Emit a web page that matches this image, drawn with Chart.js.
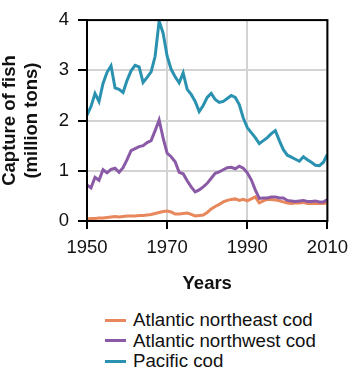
<!DOCTYPE html>
<html>
<head>
<meta charset="utf-8">
<script src="https://cdn.jsdelivr.net/npm/chart.js@4/dist/chart.umd.min.js"></script>
<style>
  html, body { margin: 0; padding: 0; background: #fff; }
  body { width: 356px; height: 374px; overflow: hidden; font-family: "Liberation Sans", Arial, sans-serif; }
  #wrap { position: relative; width: 356px; height: 300px; }
  #legend { position: absolute; left: 105px; top: 310px; }
  .item { height: 20.5px; line-height: 20.5px; font-size: 18.7px; color: #111; white-space: nowrap; }
  .sw { display: inline-block; width: 21px; height: 3px; vertical-align: middle; margin-right: 7px; position: relative; top: -1px; }
</style>
</head>
<body>
<div id="wrap"><canvas id="c" width="356" height="300"></canvas></div>
<div id="legend"></div>
<script>
const years = [];
for (let y = 1950; y <= 2010; y++) years.push(y);

const seriesNames = ["Atlantic northeast cod", "Atlantic northwest cod", "Pacific cod"];
const seriesColors = ["#e8875c", "#8a5aa7", "#2a92b0"];

const atlanticNortheast = [
  0.04, 0.05, 0.05, 0.06, 0.06, 0.07, 0.08, 0.09, 0.08, 0.09,
  0.10, 0.10, 0.10, 0.11, 0.11, 0.12, 0.13, 0.15, 0.17, 0.19,
  0.20, 0.18, 0.14, 0.14, 0.15, 0.16, 0.13, 0.10, 0.11, 0.12,
  0.17, 0.24, 0.29, 0.33, 0.38, 0.41, 0.43, 0.44, 0.41, 0.43,
  0.40, 0.44, 0.48, 0.36, 0.40, 0.43, 0.43, 0.42, 0.40, 0.38,
  0.36, 0.35, 0.36, 0.36, 0.37, 0.35, 0.35, 0.35, 0.35, 0.35,
  0.36
];
const atlanticNorthwest = [
  0.72, 0.66, 0.87, 0.81, 1.02, 0.96, 1.03, 1.05, 0.97, 1.06,
  1.22, 1.40, 1.44, 1.48, 1.50, 1.56, 1.60, 1.80, 2.01, 1.65,
  1.35, 1.28, 1.18, 0.97, 0.94, 0.80, 0.68, 0.58, 0.62, 0.68,
  0.75, 0.85, 0.95, 0.98, 1.02, 1.06, 1.07, 1.04, 1.09, 1.05,
  0.96, 0.82, 0.62, 0.45, 0.46, 0.46, 0.48, 0.48, 0.46, 0.46,
  0.41, 0.40, 0.39, 0.40, 0.41, 0.39, 0.39, 0.40, 0.38, 0.38,
  0.43
];
const pacific = [
  2.11, 2.28, 2.54, 2.38, 2.74, 2.96, 3.09, 2.65, 2.62, 2.56,
  2.80, 2.99, 3.10, 3.07, 2.76, 2.86, 2.97, 3.28, 3.98, 3.74,
  3.28, 3.02, 2.87, 2.75, 2.95, 2.62, 2.52, 2.38, 2.18, 2.30,
  2.46, 2.54, 2.42, 2.36, 2.38, 2.44, 2.50, 2.46, 2.32, 2.05,
  1.86, 1.76, 1.66, 1.54, 1.60, 1.66, 1.74, 1.80, 1.60, 1.42,
  1.31, 1.27, 1.23, 1.19, 1.28, 1.22, 1.17, 1.11, 1.10, 1.17,
  1.33
];
const xTicks = [1950, 1970, 1990, 2010];
const yTicks = [0, 1, 2, 3, 4];
const yTitle = ["Capture of fish", "(million tons)"];
const xTitle = "Years";

const seriesValues = [atlanticNortheast, atlanticNorthwest, pacific];
const toPoints = vals => vals.map((v, i) => ({ x: years[i], y: v }));

const datasets = seriesNames.map((name, i) => ({
  label: name,
  data: toPoints(seriesValues[i]),
  borderColor: seriesColors[i],
  backgroundColor: seriesColors[i],
  borderWidth: 3,
  pointRadius: 0,
  tension: 0,
  fill: false,
  order: 2 - i
}));

const frame = {
  id: 'frame',
  afterDraw(chart) {
    const { ctx, chartArea: a } = chart;
    ctx.save();
    ctx.strokeStyle = '#000';
    ctx.lineWidth = 2;
    ctx.strokeRect(a.left, a.top, a.right - a.left, a.bottom - a.top);
    ctx.restore();
  }
};

const font = "'Liberation Sans', Arial, sans-serif";

new Chart(document.getElementById('c'), {
  type: 'line',
  data: { datasets },
  plugins: [frame],
  options: {
    responsive: false,
    animation: false,
    layout: { padding: { top: 10, right: 21, left: 0, bottom: 0 } },
    plugins: { legend: { display: false }, tooltip: { enabled: false } },
    scales: {
      x: {
        type: 'linear',
        min: xTicks[0],
        max: xTicks[xTicks.length - 1],
        afterBuildTicks: s => { s.ticks = xTicks.map(v => ({ value: v })); },
        afterFit: s => { s.height = 79; },
        ticks: { color: '#111', font: { family: font, size: 18.5 }, padding: 8, maxRotation: 0, callback: v => String(v) },
        grid: { color: '#d3d3d3', lineWidth: 2, tickColor: '#000', tickLength: 8, tickWidth: 2 },
        border: { color: '#000', width: 2 },
        title: { display: true, text: xTitle, color: '#111', font: { family: font, size: 18.5, weight: 'bold' }, padding: { top: 0, bottom: 5 } }
      },
      y: {
        min: yTicks[0],
        max: yTicks[yTicks.length - 1],
        afterBuildTicks: s => { s.ticks = yTicks.map(v => ({ value: v })); },
        afterFit: s => { s.width = 87; },
        ticks: { color: '#111', font: { family: font, size: 18.5 }, padding: 9 },
        grid: { color: '#d3d3d3', lineWidth: 2, tickColor: '#000', tickLength: 9, tickWidth: 2 },
        border: { color: '#000', width: 2 },
        title: { display: true, text: yTitle, color: '#111', font: { family: font, size: 18.5, weight: 'bold', lineHeight: 1.2 }, padding: { top: -1, bottom: 0 } }
      }
    }
  }
});

const legend = document.getElementById('legend');
seriesNames.forEach((name, i) => {
  const d = document.createElement('div');
  d.className = 'item';
  const sw = document.createElement('span');
  sw.className = 'sw';
  sw.style.background = seriesColors[i];
  d.appendChild(sw);
  d.appendChild(document.createTextNode(name));
  legend.appendChild(d);
});
</script>
</body>
</html>
